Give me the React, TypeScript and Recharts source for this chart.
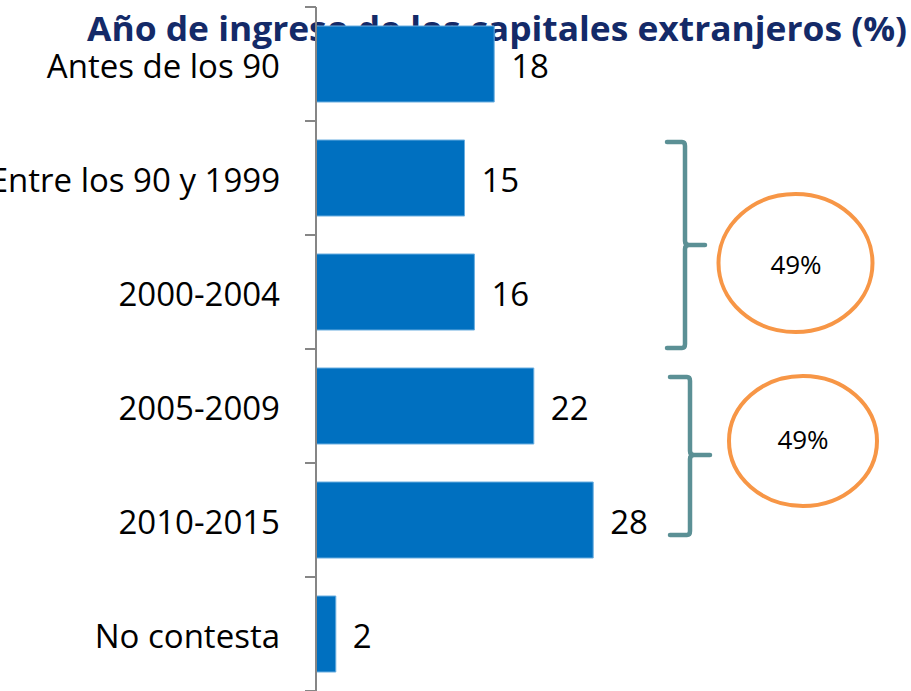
import { BarChart, Bar, XAxis, YAxis, LabelList } from "recharts";

const categories = [
  "Antes de los 90",
  "Entre los 90 y 1999",
  "2000-2004",
  "2005-2009",
  "2010-2015",
  "No contesta",
];
const shares = [18, 15, 16, 22, 28, 2];
const groupLabels = ["49%", "49%"];

const TITLE = "Año de ingreso de los capitales extranjeros (%)";
const FONT = "'Open Sans', sans-serif";
const W = 911;
const H = 691;
const TOP = 7;
const BAND = (H - TOP) / categories.length;

const data = categories.map((c, i) => ({ cat: c, value: shares[i] }));

// category label plus the boundary tick marks (Excel puts them between bands)
function CatTick(props: any) {
  const { x, y, payload, index } = props;
  const last = index === categories.length - 1;
  return (
    <g>
      <line x1={316 - 11} x2={316} y1={y - BAND / 2} y2={y - BAND / 2} stroke="#868686" strokeWidth={2} />
      {last && <line x1={316 - 11} x2={316} y1={y + BAND / 2} y2={y + BAND / 2} stroke="#868686" strokeWidth={2} />}
      <text x={x} y={y + 2} dy="0.36em" textAnchor="end" fontSize={33} fontFamily={FONT} fill="#000">
        {payload.value}
      </text>
    </g>
  );
}

function Brace({ x, top, bottom, mid, left, right }: any) {
  const d = `M${left},${top} L${x - 3},${top} Q${x},${top} ${x},${top + 4} L${x},${mid - 4} Q${x},${mid} ${x + 4},${mid} L${right},${mid} M${x + 4},${mid} Q${x},${mid} ${x},${mid + 4} L${x},${bottom - 4} Q${x},${bottom} ${x - 3},${bottom} L${left},${bottom}`;
  return <path d={d} fill="none" stroke="#5B9095" strokeWidth={4.5} strokeLinecap="round" />;
}

export default function App() {
  return (
    <div style={{ position: "absolute", left: 0, top: 0, width: W, height: H, background: "#fff" }}>
      <svg width={W} height={H} style={{ position: "absolute", left: 0, top: 0 }}>
        <text
          x={87}
          y={41}
          fontSize={34}
          fontWeight={700}
          fontFamily={FONT}
          fill="#142a68"
          textLength={820}
          lengthAdjust="spacingAndGlyphs"
        >
          {TITLE}
        </text>
      </svg>
      <div style={{ position: "absolute", left: 0, top: 0 }}>
        <BarChart
          width={W}
          height={H}
          data={data}
          layout="vertical"
          margin={{ top: TOP, right: 298, bottom: 0, left: 0 }}
          barCategoryGap={19}
        >
          <XAxis type="number" domain={[0, 30]} hide />
          <YAxis
            type="category"
            dataKey="cat"
            width={316}
            axisLine={{ stroke: "#868686", strokeWidth: 2 }}
            tickLine={false}
            tickSize={0}
            tickMargin={36}
            tick={<CatTick />}
            interval={0}
          />
          <Bar dataKey="value" fill="#0070C0" stroke="#6aaee0" strokeWidth={1} isAnimationActive={false}>
            <LabelList
              dataKey="value"
              position="right"
              offset={17}
              fontSize={33}
              fontFamily={FONT}
              fill="#000"
              dy={2}
            />
          </Bar>
        </BarChart>
      </div>
      <svg width={W} height={H} style={{ position: "absolute", left: 0, top: 0, pointerEvents: "none" }}>
        <Brace x={685} top={142} bottom={348} mid={245} left={667} right={705} />
        <Brace x={690} top={377} bottom={535} mid={455} left={670} right={710} />
        <ellipse cx={795.5} cy={263} rx={77} ry={69} fill="none" stroke="#F79646" strokeWidth={4} />
        <ellipse cx={803} cy={441} rx={74} ry={65} fill="none" stroke="#F79646" strokeWidth={4} />
        <text x={796} y={267} textAnchor="middle" dominantBaseline="middle" fontSize={26} fontFamily={FONT} fill="#000">
          {groupLabels[0]}
        </text>
        <text x={803} y={442} textAnchor="middle" dominantBaseline="middle" fontSize={26} fontFamily={FONT} fill="#000">
          {groupLabels[1]}
        </text>
      </svg>
    </div>
  );
}
